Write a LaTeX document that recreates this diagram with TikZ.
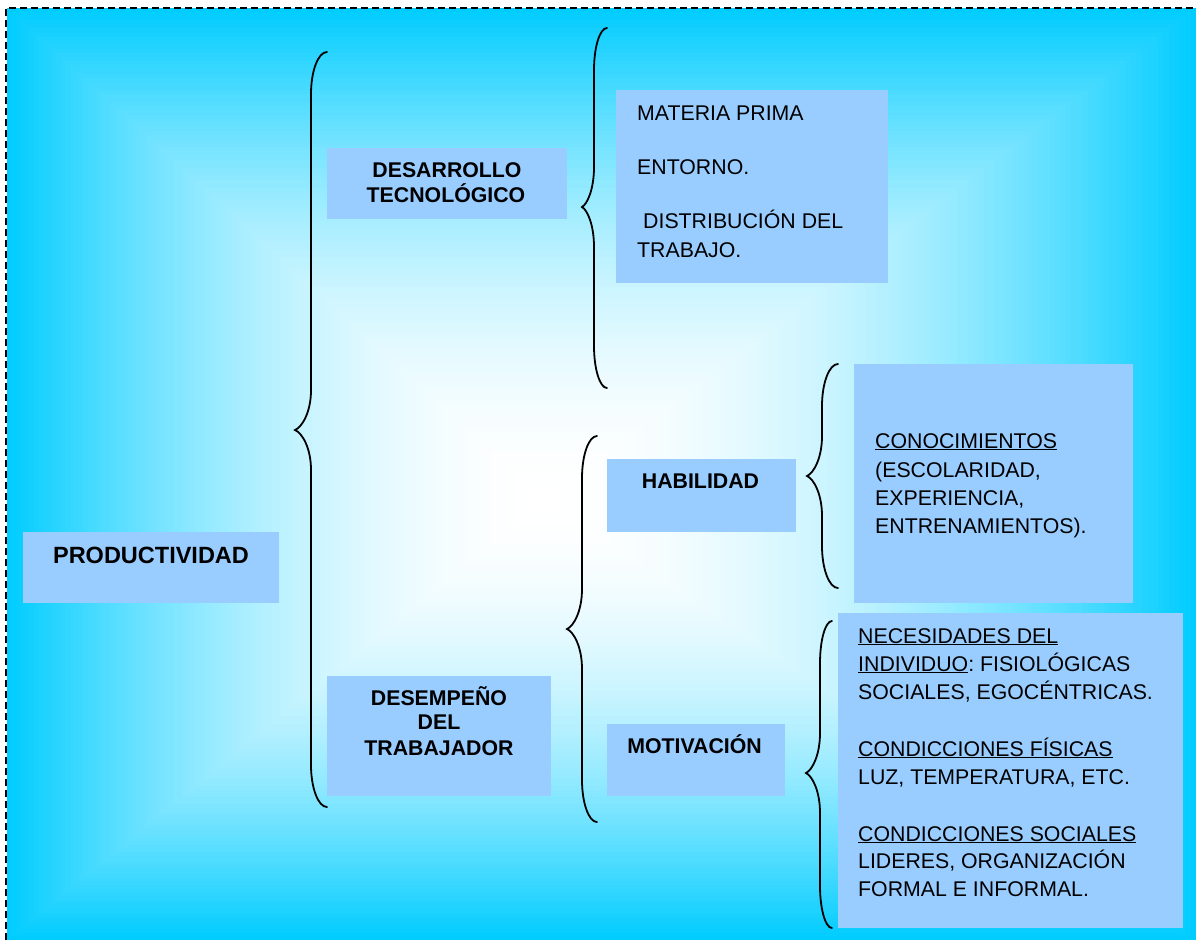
\documentclass[tikz,border=0pt]{standalone}
\usepackage{fontspec}
\setmainfont{Liberation Sans}
\frenchspacing
\definecolor{bgcyan}{RGB}{0,204,255}
\definecolor{boxblue}{RGB}{153,204,255}
\newsavebox\ulinebox
% underline that sits close to the baseline of capital letters
\newcommand\uln[1]{\sbox\ulinebox{#1}\rlap{\rule[-2.2pt]{\wd\ulinebox}{1.4pt}}\usebox\ulinebox}
% left curly brace: tip x, stem x, cusp x, top y, cusp y, bottom y
\newcommand\leftbrace[6]{%
  \draw[bracestroke]
    (#1,#4) .. controls ({#1-0.55*(#1-#2)},#4) and (#2,{#4+19}) .. (#2,{#4+42})
    -- (#2,{#5-40})
    .. controls (#2,{#5-18}) and ({#3+0.45*(#2-#3)},{#5-3}) .. (#3,#5)
    .. controls ({#3+0.45*(#2-#3)},{#5+3}) and (#2,{#5+18}) .. (#2,{#5+40})
    -- (#2,{#6-42})
    .. controls (#2,{#6-19}) and ({#1-0.55*(#1-#2)},#6) .. (#1,#6);}
\tikzset{
  box/.style={fill=boxblue, draw=none, inner sep=0pt},
  bracestroke/.style={draw=black, line width=1.8pt, line cap=round},
  frame/.style={draw=black, line width=2.2pt, dash pattern=on 7pt off 4pt},
  head/.style={inner sep=0pt, font=\fontsize{21.3}{25}\selectfont\bfseries, anchor=base},
  bighead/.style={inner sep=0pt, font=\fontsize{23.5}{28}\selectfont\bfseries, anchor=base},
  item/.style={inner sep=0pt, font=\fontsize{21.3}{28}\selectfont, anchor=base west},
}
\begin{document}
\begin{tikzpicture}[x=1pt, y=-1pt]
\useasboundingbox (0,0) rectangle (1196,940);

% background: rectangular gradient, cyan at the rim, white towards the middle
\foreach \i in {0,...,119}{
  \pgfmathsetmacro\bgT{1-\i/120}
  \pgfmathsetmacro\bgP{100*pow(\bgT,1.9)}
  \fill[bgcyan!\bgP!white]
    ({545+\bgT*(7-545)},{500+\bgT*(8-500)}) rectangle
    ({545+\bgT*(1196-545)},{500+\bgT*(940-500)});
}
\draw[frame] (6,940) -- (6,8) -- (1196,8);

% boxes
\node[box, minimum width=256pt, minimum height=71pt]  (prod) at (151,567.5) {};
\node[box, minimum width=240pt, minimum height=71pt]  (tec)  at (447,183.5) {};
\node[box, minimum width=224pt, minimum height=120pt] (des)  at (439,736) {};
\node[box, minimum width=272pt, minimum height=193pt] (mat)  at (752,186.5) {};
\node[box, minimum width=189pt, minimum height=73pt]  (hab)  at (701.5,495.5) {};
\node[box, minimum width=178pt, minimum height=72pt]  (mot)  at (696,760) {};
\node[box, minimum width=279pt, minimum height=239pt] (con)  at (993.5,483.5) {};
\node[box, minimum width=345pt, minimum height=315pt] (nec)  at (1010.5,770.5) {};

% headings
\node[bighead] (tprod) at (151,563) {PRODUCTIVIDAD};
\node[head] (ttec1) at (447,177) {DESARROLLO};
\node[head] (ttec2) at (446,202) {TECNOLÓGICO};
\node[head] (tdes1) at (439,705) {DESEMPEÑO};
\node[head] (tdes2) at (439,729) {DEL};
\node[head] (tdes3) at (439,755) {TRABAJADOR};
\node[head] (thab)  at (700.5,488) {HABILIDAD};
\node[head] (tmot)  at (694.5,753) {MOTIVACIÓN};

% technology factors
\node[item] (m1) at (637,120) {MATERIA PRIMA};
\node[item] (m2) at (637,174) {ENTORNO.};
\node[item] (m3) at (643,228) {DISTRIBUCIÓN DEL};
\node[item] (m4) at (637,257) {TRABAJO.};

% skills
\node[item] (c1) at (875,448) {\uln{CONOCIMIENTOS}};
\node[item] (c2) at (875,477) {(ESCOLARIDAD,};
\node[item] (c3) at (875,505) {EXPERIENCIA,};
\node[item] (c4) at (875,533) {ENTRENAMIENTOS).};

% motivation
\node[item] (n1) at (858,643) {\uln{NECESIDADES DEL}};
\node[item] (n2) at (858,671) {\uln{INDIVIDUO}: FISIOLÓGICAS};
\node[item] (n3) at (858,699) {SOCIALES, EGOCÉNTRICAS.};
\node[item] (n4) at (858,756) {\uln{CONDICCIONES FÍSICAS}};
\node[item] (n5) at (858,784) {LUZ, TEMPERATURA, ETC.};
\node[item] (n6) at (858,841) {\uln{CONDICCIONES SOCIALES}};
\node[item] (n7) at (858,868) {LIDERES, ORGANIZACIÓN};
\node[item] (n8) at (858,896) {FORMAL E INFORMAL.};

% braces
\leftbrace{327}{311}{295}{52}{430}{807}
\leftbrace{607}{594}{582}{28}{207}{388}
\leftbrace{597}{582}{567}{436}{629}{822}
\leftbrace{838}{822}{807}{364}{476}{588}
\leftbrace{832}{820}{806}{621}{773}{928}
\end{tikzpicture}
\end{document}
